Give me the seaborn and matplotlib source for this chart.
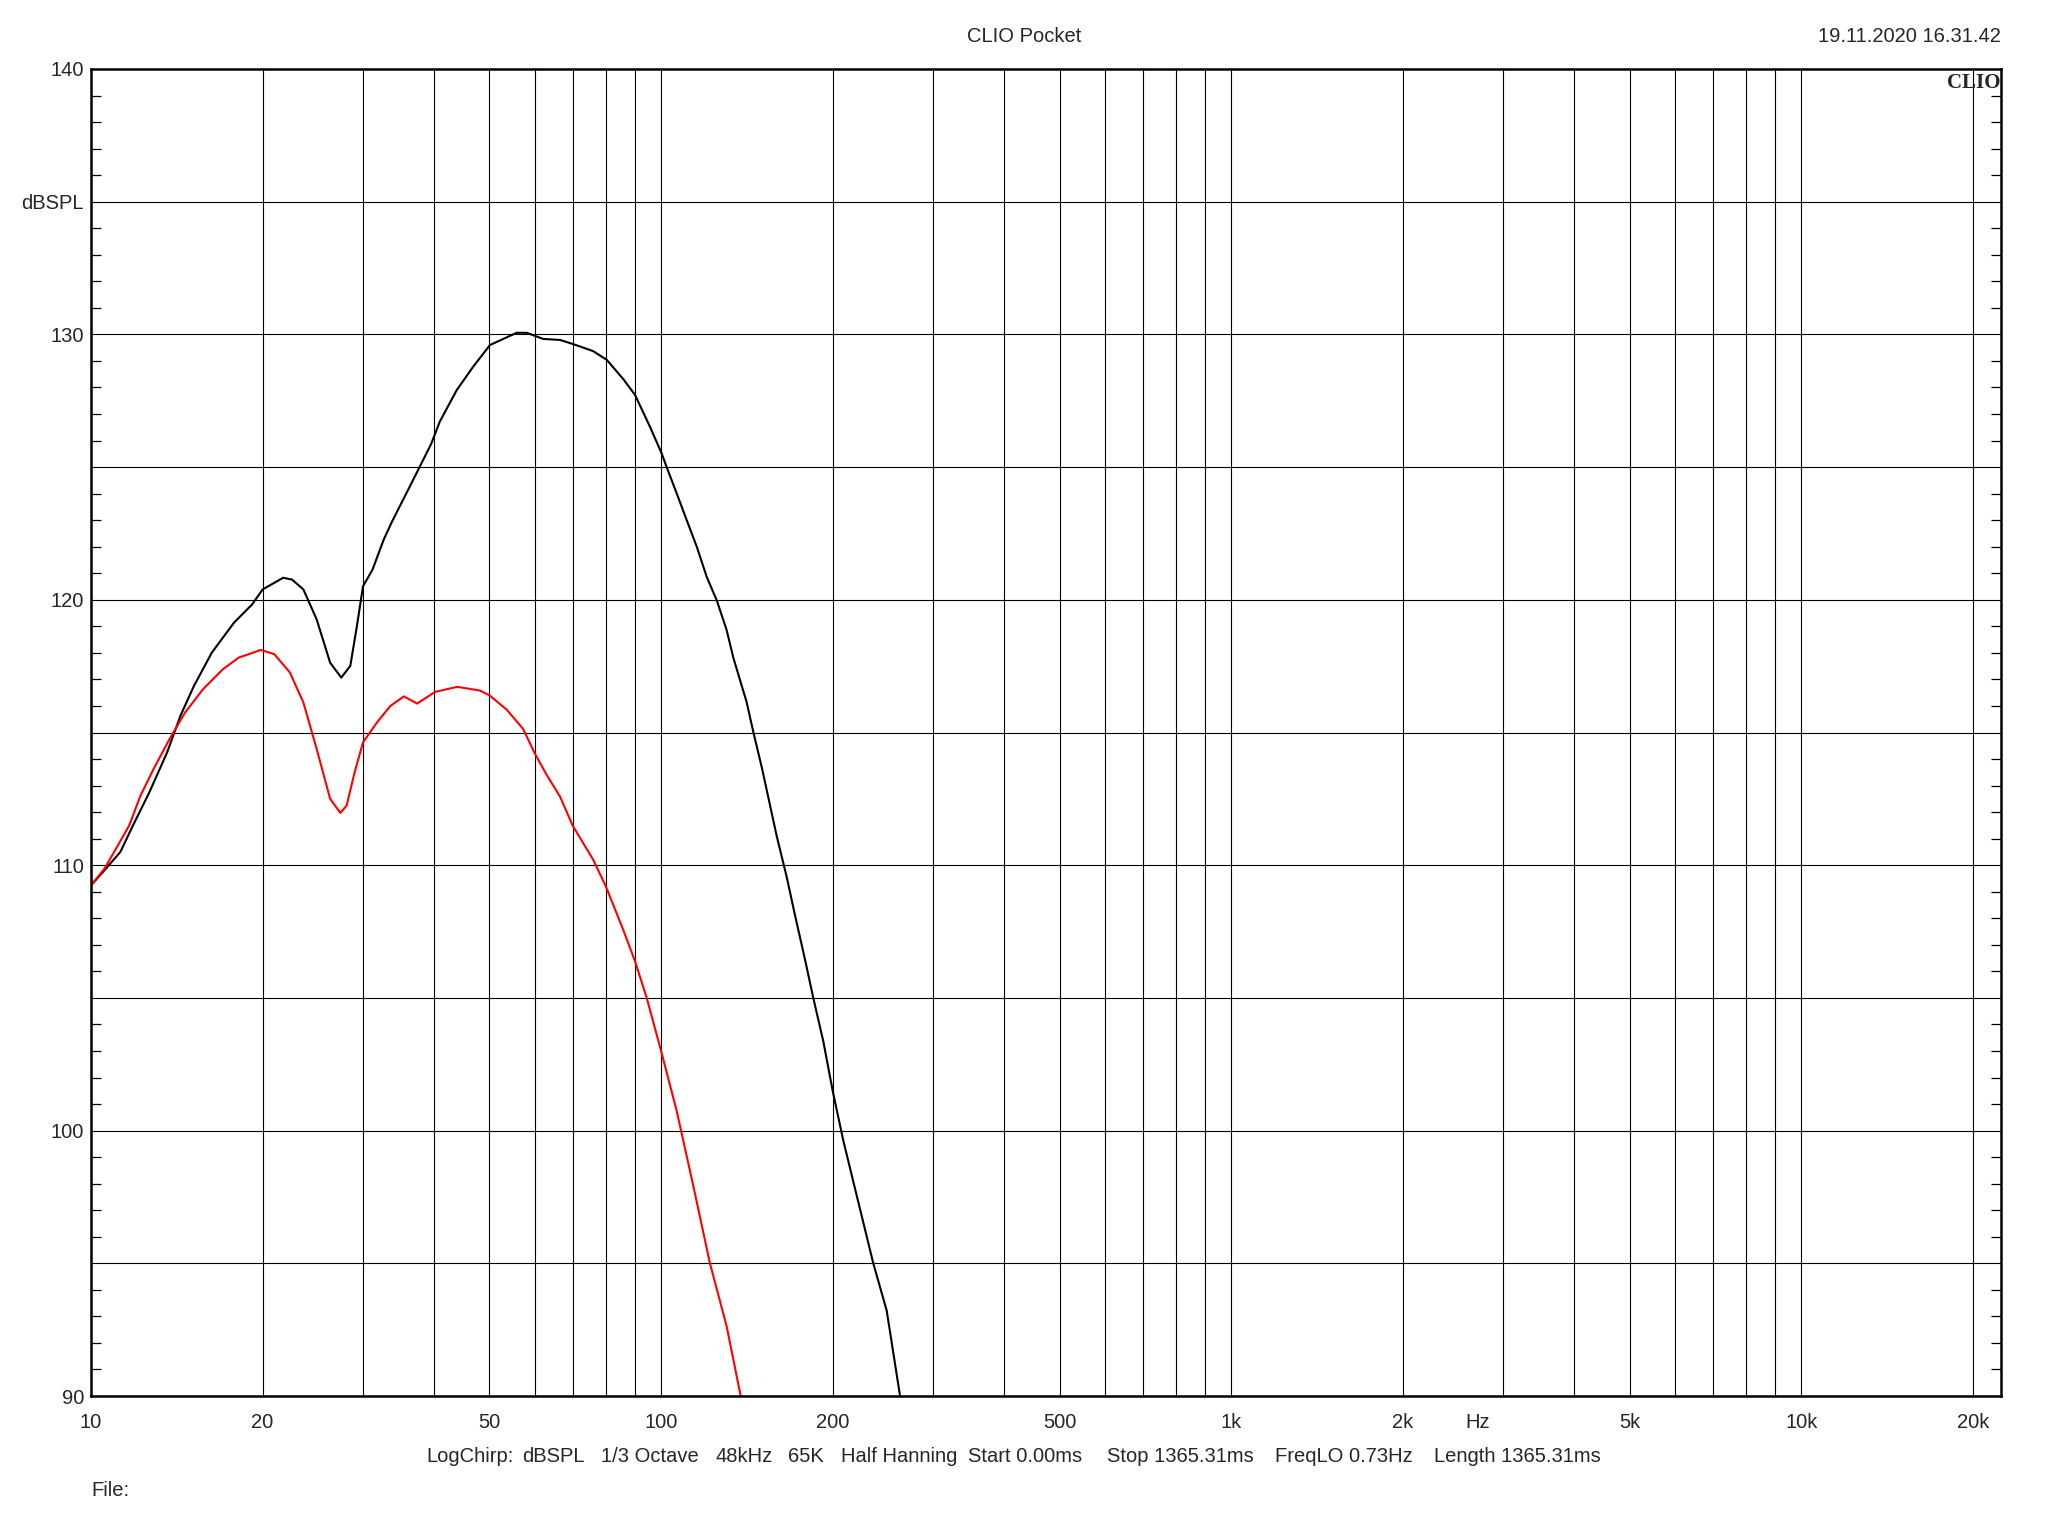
import numpy as np
import pandas as pd
import matplotlib
matplotlib.use("Agg")
import matplotlib.pyplot as plt
import matplotlib.ticker as mticker
import seaborn as sns

# Frequency response values (Hz, dBSPL)
black_hz = [10, 10.56, 11.26, 11.77, 12.66, 13.6, 14.35, 15.16, 16.29, 17.82, 19.16, 20,
            21.73, 22.53, 23.58, 24.88, 26.27, 27.48, 28.5, 29.27, 30, 31.18, 32.62, 33.7,
            36.5, 39.5, 40.9, 43.8, 46.8, 50.1, 55.8, 58.1, 62.1, 66.5, 70.2, 76.0, 80.3,
            85.8, 90.0, 95.6, 100.2, 102.3, 106.5, 110.9, 115.5, 120.2, 125.2, 130.3, 133.9,
            141.2, 145.2, 150.2, 159.5, 166.1, 171.8, 178.8, 184.9, 192.6, 200, 208.7, 220.3,
            235.6, 248.7, 262.5]
black_db = [109.24, 109.81, 110.5, 111.37, 112.75, 114.25, 115.63, 116.76, 118.01, 119.14,
            119.82, 120.39, 120.83, 120.76, 120.39, 119.26, 117.63, 117.07, 117.51, 119.01,
            120.51, 121.14, 122.27, 122.93, 124.4, 125.87, 126.71, 127.9, 128.78, 129.6,
            130.06, 130.06, 129.83, 129.79, 129.63, 129.37, 129.04, 128.32, 127.72, 126.52,
            125.52, 124.99, 124.01, 123.0, 122.0, 120.87, 119.98, 118.86, 117.81, 116.16,
            115.0, 113.68, 111.1, 109.55, 108.1, 106.45, 105.0, 103.35, 101.49, 99.63, 97.56,
            95.0, 93.22, 90.0]

red_hz = [10, 10.56, 11.15, 11.67, 12.21, 12.88, 13.73, 14.62, 15.72, 17.03, 18.15, 19.86,
          20.97, 22.33, 23.58, 24.88, 26.27, 27.38, 28.08, 29.0, 30, 31.74, 33.5, 35.38, 37.33,
          40.13, 43.9, 48.1, 50, 53.6, 57.3, 60, 63.0, 66.5, 70, 76.0, 80, 85.8, 90, 94.3,
          100, 106.5, 113.9, 121.8, 130.3, 137.9]
red_db = [109.24, 109.87, 110.75, 111.5, 112.62, 113.63, 114.75, 115.75, 116.63, 117.38,
          117.82, 118.11, 117.95, 117.26, 116.13, 114.38, 112.5, 111.97, 112.25, 113.5, 114.63,
          115.38, 116.0, 116.36, 116.09, 116.53, 116.72, 116.58, 116.4, 115.86, 115.13, 114.22,
          113.4, 112.58, 111.48, 110.21, 109.2, 107.57, 106.38, 105.02, 103.0, 100.74, 97.91,
          95.0, 92.63, 90.0]

# Axis ticks and labels
x_ticks = [10, 20, 50, 100, 200, 500, 1000, 2000, 2710, 5000, 10000, 20000]
x_labels = ['10', '20', '50', '100', '200', '500', '1k', '2k', 'Hz', '5k', '10k', '20k']

footer_parts = ['LogChirp:', 'dBSPL', '1/3 Octave', '48kHz', '65K', 'Half Hanning',
                'Start 0.00ms', 'Stop 1365.31ms', 'FreqLO 0.73Hz', 'Length 1365.31ms']
footer_x = [426, 522, 601, 716, 788, 841, 968, 1107, 1275, 1434]

FS = 14.5

sns.set_style('ticks')
plt.rcParams['font.family'] = ['Liberation Sans', 'DejaVu Sans']
plt.rcParams['font.size'] = FS

fig = plt.figure(figsize=(20.48, 15.36), dpi=100)
ax = fig.add_axes([91 / 2048, 1 - 1396 / 1536, 1910 / 2048, 1327 / 1536])

df_black = pd.DataFrame({'hz': black_hz, 'db': black_db})
df_red = pd.DataFrame({'hz': red_hz, 'db': red_db})
sns.lineplot(data=df_black, x='hz', y='db', color='black', linewidth=1.5, estimator=None, ax=ax)
sns.lineplot(data=df_red, x='hz', y='db', color='#ff0000', linewidth=1.5, estimator=None, ax=ax)

ax.set_xscale('log')
ax.set_xlim(10, 22400)
ax.set_ylim(90, 140)
ax.set_xlabel('')
ax.set_ylabel('')

# x axis: grid on every 1..9 multiple, labels only on a few
ax.set_xticks(x_ticks)
ax.set_xticklabels(x_labels)
ax.xaxis.set_minor_locator(mticker.LogLocator(base=10, subs=np.arange(1, 10), numticks=20))
ax.xaxis.set_minor_formatter(mticker.NullFormatter())
ax.tick_params(axis='x', which='both', length=0, pad=12.5, labelsize=FS)

# y axis: grid every 5 dB, labels every 10 dB, small inward ticks every 1 dB
ax.yaxis.set_major_locator(mticker.MultipleLocator(5))


def ylab(v, pos):
    if abs(v - 135) < 0.01:
        return 'dBSPL'
    if abs(v % 10) < 0.01:
        return f'{int(round(v))}'
    return ''


ax.yaxis.set_major_formatter(mticker.FuncFormatter(ylab))
ax.yaxis.set_minor_locator(mticker.MultipleLocator(1))
ax.tick_params(axis='y', which='major', length=0, pad=5, labelsize=FS)
ax.tick_params(axis='y', which='minor', direction='in', length=7, width=0.9,
               left=True, right=True, color='black')

ax.grid(which='major', axis='both', color='black', linewidth=0.8)
ax.grid(which='minor', axis='x', color='black', linewidth=0.8)
ax.grid(which='minor', axis='y', visible=False)
# no grid line under the 'Hz' label
ax.get_xgridlines()[x_ticks.index(2710)].set_visible(False)

for s in ax.spines.values():
    s.set_visible(True)
    s.set_linewidth(1.8)
    s.set_color('black')

# header texts
fig.text(0.5, 1 - 36 / 1536, 'CLIO Pocket', ha='center', va='center', fontsize=FS)
fig.text(2001 / 2048, 1 - 36 / 1536, '19.11.2020 16.31.42', ha='right', va='center', fontsize=FS)
ax.text(0.9995, 0.997, 'CLIO', transform=ax.transAxes, ha='right', va='top',
        fontsize=15, fontweight='bold', family=['Liberation Serif', 'DejaVu Serif'])

# footer texts
for part, xp in zip(footer_parts, footer_x):
    fig.text(xp / 2048, 1 - 1457 / 1536, part, ha='left', va='center', fontsize=FS)
fig.text(91 / 2048, 1 - 1491 / 1536, 'File:', ha='left', va='center', fontsize=FS)

fig.savefig('out.png', dpi=100, facecolor='white')
